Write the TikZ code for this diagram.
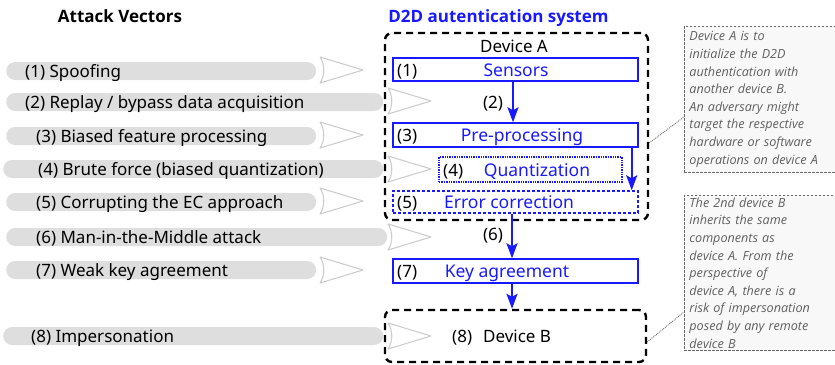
\documentclass[tikz,border=0pt]{standalone}
\usepackage{fontspec}
\setmainfont{Noto Sans}
\newfontfamily\headfont{Open Sans}
\usetikzlibrary{arrows.meta}
\definecolor{bblue}{RGB}{25,25,255}
\definecolor{barfill}{RGB}{222,222,222}
\definecolor{chevgray}{RGB}{205,205,205}
\definecolor{notegray}{RGB}{105,105,105}
\definecolor{notefill}{RGB}{248,248,248}
\definecolor{notetext}{RGB}{95,95,95}
\begin{document}
\begin{tikzpicture}[x=1pt,y=-1pt,
  every node/.style={font=\fontsize{17}{20}\selectfont, inner sep=0pt},
  heading/.style={font=\headfont\fontsize{17}{20}\selectfont\bfseries, anchor=base},
  bar/.style={fill=barfill, rounded corners=9pt, minimum height=18pt, anchor=west},
  bartext/.style={anchor=base west},
  chevline/.style={draw=chevgray, line width=1.1pt, line join=round},
  devbox/.style={draw=black, line width=2.4pt, dash pattern=on 7pt off 5pt, rounded corners=7pt},
  stagebox/.style={draw=bblue, line width=1.4pt, minimum width=245pt, minimum height=23pt},
  stagelabel/.style={text=bblue, font=\fontsize{17.5}{20}\selectfont, anchor=base},
  numlabel/.style={anchor=base west},
  arr/.style={draw=bblue, line width=2pt, -{Stealth[length=15pt,width=11pt,inset=3pt]}},
  notebox/.style={draw=notegray, line width=0.9pt, dash pattern=on 2.5pt off 1.5pt, fill=notefill, anchor=north west, minimum width=151pt, text width=141pt, inner xsep=5pt, align=left, text=notetext, font=\headfont\fontsize{12.6}{17.6}\selectfont\itshape},
  noteline/.style={draw=notegray, line width=0.9pt, densely dotted},
  chev/.pic={\draw[chevline] (0,-13) -- (43,0) -- (0,13) .. controls (5,6) and (5,-6) .. (0,-13);}
]
\useasboundingbox (0,0) rectangle (835,364);

% headings
\node[heading] (h1) at (120,22) {Attack Vectors};
\node[heading, text=bblue] (h2) at (498.5,22) {D2D autentication system};

% attack vector bars
\node[bar, minimum width=310pt] (v1) at (6,71) {};
\node[bar, minimum width=377pt] (v2) at (6,102) {};
\node[bar, minimum width=310pt] (v3) at (6,136) {};
\node[bar, minimum width=380pt] (v4) at (3,169) {};
\node[bar, minimum width=310pt] (v5) at (6,202) {};
\node[bar, minimum width=381pt] (v6) at (6,237) {};
\node[bar, minimum width=310pt] (v7) at (6,270) {};
\node[bar, minimum width=380pt] (v8) at (3,336) {};
\node[bartext] (t1) at (25,77.5) {(1) Spoofing};
\node[bartext] (t2) at (25,108.5) {(2) Replay / bypass data acquisition};
\node[bartext] (t3) at (36,142.5) {(3) Biased feature processing};
\node[bartext] (t4) at (38,175.5) {(4) Brute force (biased quantization)};
\node[bartext] (t5) at (36,208.5) {(5) Corrupting the EC approach};
\node[bartext] (t6) at (36,243.5) {(6) Man-in-the-Middle attack};
\node[bartext] (t7) at (36,276.5) {(7) Weak key agreement};
\node[bartext] (t8) at (31,342.5) {(8) Impersonation};

% chevrons
\pic at (320,70) {chev};
\pic at (388,101) {chev};
\pic at (320,135) {chev};
\pic at (388,169) {chev};
\pic at (320,201) {chev};
\pic at (388,237) {chev};
\pic at (320,270) {chev};
\pic at (388,336) {chev};

% device boxes
\node[devbox, minimum width=263pt, minimum height=187pt] (devA) at (516.5,126.5) {};
\node[anchor=base] (devAlabel) at (514,52) {Device A};
\node[devbox, minimum width=261pt, minimum height=52pt] (devB) at (515.5,336) {};
\node[anchor=base west] (devBlabel) at (452,342) {(8)\hspace{11pt}Device B};

% stages
\node[stagebox] (s1) at (515.5,69.5) {};
\node[numlabel] at (397,76) {(1)};
\node[stagelabel] (l1) at (516,76) {Sensors};

\node[stagebox, minimum height=24pt] (s3) at (515.5,135) {};
\node[numlabel] at (397,141.5) {(3)};
\node[stagelabel] (l3) at (522,141.5) {Pre-processing};

\node[stagebox, minimum width=183pt, minimum height=25pt, densely dotted] (s4) at (530.5,169.5) {};
\node[numlabel] at (443,176) {(4)};
\node[stagelabel] (l4) at (537,176) {Quantization};

\node[stagebox, minimum height=22pt, dash pattern=on 3pt off 2pt] (s5) at (515.5,202) {};
\node[numlabel] at (397,208.5) {(5)};
\node[stagelabel] (l5) at (509,208.5) {Error correction};

\node[stagebox, minimum height=24pt] (s7) at (515.5,271) {};
\node[numlabel] at (397,277.5) {(7)};
\node[stagelabel] (l7) at (507,277.5) {Key agreement};

% arrows
\draw[arr] ([xshift=-2.5pt]s1.south) -- ([xshift=-2.5pt]s1.south |- s3.north);
\node[anchor=base] (a2) at (493,108) {(2)};
\draw[arr] ([xshift=-7pt]s3.south east) -- ([xshift=-7pt]s3.south east |- s5.north);
\draw[arr] ([xshift=-3.5pt]s5.south) -- ([xshift=-3.5pt]s5.south |- s7.north);
\node[anchor=base] (a6) at (493,240) {(6)};
\draw[arr] ([xshift=-3.5pt]s7.south) -- ([xshift=-3.5pt]s7.south |- devB.north);

% notes
\node[notebox, minimum height=146pt] (n1) at (684,26) {Device A is to\\initialize the D2D\\authentication with\\another device B.\\An adversary might\\target the respective\\hardware or software\\operations on device A};
\node[notebox, minimum height=155pt] (n2) at (684,195) {The 2nd device B\\inherits the same\\components as\\device A. From the\\perspective of\\device A, there is a\\risk of impersonation\\posed by any remote\\device B};
\draw[noteline] (devA.east |- 0,143) -- (n1.west |- 0,117);
\draw[noteline] (devB.east |- 0,342) -- (n2.west |- 0,312);
\end{tikzpicture}
\end{document}
